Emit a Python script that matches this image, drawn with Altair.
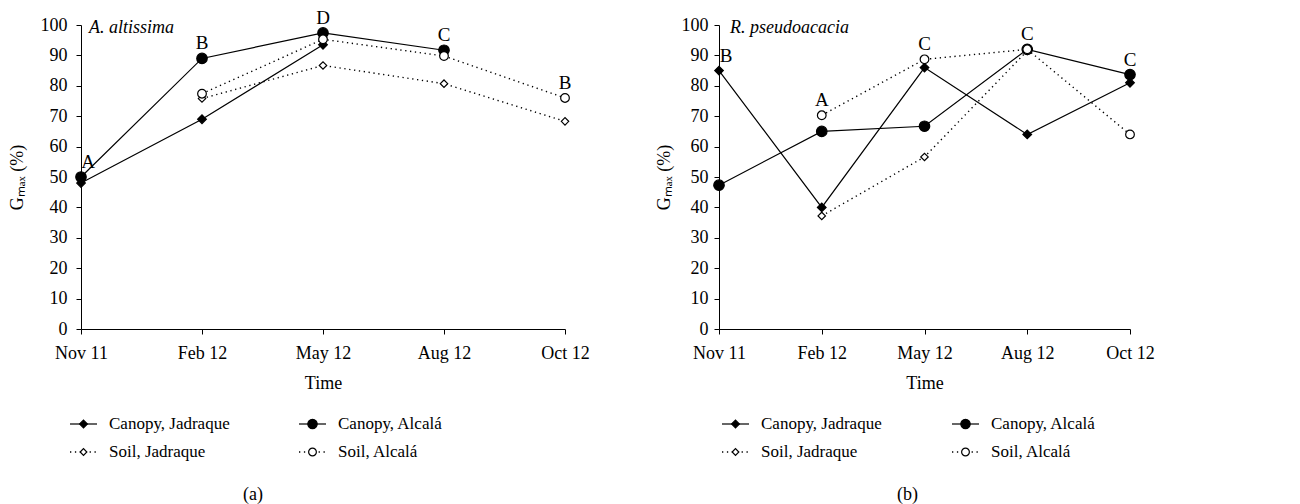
import altair as alt
import pandas as pd

# ---------------- data ----------------
dates = ["Nov 11", "Feb 12", "May 12", "Aug 12", "Oct 12"]
series_names = ["Canopy, Jadraque", "Canopy, Alcalá", "Soil, Jadraque", "Soil, Alcalá"]

# (a) A. altissima   (None = no point at that date)
a_canopy_jadraque = [48, 69, 93.5, None, None]
a_canopy_alcala = [50, 89, 97.4, 91.7, None]
a_soil_jadraque = [None, 75.8, 86.7, 80.7, 68.3]
a_soil_alcala = [None, 77.4, 95.3, 89.8, 76]
a_letters = ["A", "B", "D", "C", "B"]

# (b) R. pseudoacacia
b_canopy_jadraque = [85, 40, 86, 64, 81]
b_canopy_alcala = [47.3, 65, 66.7, 92, 83.7]
b_soil_jadraque = [None, 37.2, 56.6, 91.5, None]
b_soil_alcala = [None, 70.3, 88.7, 92, 64]
b_letters = ["B", "A", "C", "C", "C"]

FONT = "Liberation Serif"

SHAPE = {"Jadraque": "diamond", "Alcalá": "circle"}
FILL = {"Canopy": "black", "Soil": "white"}
SIZE = {("Canopy", "Jadraque"): 75, ("Canopy", "Alcalá"): 110,
        ("Soil", "Jadraque"): 55, ("Soil", "Alcalá"): 75}


def long_df(values_list):
    rows = []
    for name, vals in zip(series_names, values_list):
        kind, site = [s.strip() for s in name.split(",")]
        for d, v in zip(dates, vals):
            if v is None:
                continue
            rows.append({"series": name, "kind": kind, "site": site, "date": d,
                         "value": v, "shape": SHAPE[site], "fill": FILL[kind],
                         "size": SIZE[(kind, site)]})
    return pd.DataFrame(rows)


def letters_df(df, letters):
    tops = df.groupby("date")["value"].max()
    return pd.DataFrame({"date": dates, "letter": letters,
                         "value": [tops[d] for d in dates]})


def main_chart(values_list, letters, species, W, title_pad, label_pad, sp_dx):
    df = long_df(values_list)
    ldf = letters_df(df, letters)
    xenc = alt.X("date:O", sort=dates,
                 scale=alt.Scale(type="point", padding=0, domain=dates),
                 axis=alt.Axis(title="Time", labelAngle=0, labelPadding=10,
                               titlePadding=12))
    yenc = alt.Y("value:Q", scale=alt.Scale(domain=[0, 100], nice=False),
                 axis=alt.Axis(title="Gₘₐₓ (%)", values=list(range(0, 101, 10)),
                               labelPadding=label_pad, titlePadding=title_pad))
    base = alt.Chart(df)
    solid = base.transform_filter("datum.kind == 'Canopy'").mark_line(
        color="black", strokeWidth=1.2).encode(x=xenc, y=yenc, detail="series:N")
    dotted = base.transform_filter("datum.kind == 'Soil'").mark_line(
        color="black", strokeWidth=1.4, strokeDash=[1.3, 3.6]).encode(
        x=xenc, y=yenc, detail="series:N")
    pts = base.mark_point(stroke="black", strokeWidth=1.2, opacity=1).encode(
        x=xenc, y=yenc,
        shape=alt.Shape("shape:N", scale=None),
        fill=alt.Fill("fill:N", scale=None),
        size=alt.Size("size:Q", scale=None))
    first = alt.Chart(ldf.iloc[:1]).mark_text(
        font=FONT, fontSize=19, dy=-15, dx=7, baseline="middle", color="black"
    ).encode(x=xenc, y=yenc, text="letter:N")
    rest = alt.Chart(ldf.iloc[1:]).mark_text(
        font=FONT, fontSize=19, dy=-15, baseline="middle", color="black"
    ).encode(x=xenc, y=yenc, text="letter:N")
    sp = alt.Chart(pd.DataFrame({"date": [dates[0]], "value": [100], "t": [species]})).mark_text(
        font=FONT, fontSize=18, fontStyle="italic", align="left", baseline="middle",
        dx=sp_dx, dy=3, color="black").encode(x=xenc, y=yenc, text="t:N")
    return alt.layer(solid, dotted, pts, first, rest, sp).properties(width=W, height=304)


def legend_chart(W, col_x, caption, cap_dx):
    rows = []
    for i, name in enumerate(series_names):
        kind, site = [s.strip() for s in name.split(",")]
        x0 = col_x[i % 2]
        rows.append({"series": name, "kind": kind, "row": i // 2,
                     "x0": x0, "x1": x0 + 27, "xm": x0 + 13.5, "xt": x0 + 39,
                     "shape": SHAPE[site], "fill": FILL[kind],
                     "size": SIZE[(kind, site)] * 0.8})
    ldf = pd.DataFrame(rows)
    xs = alt.Scale(domain=[0, W], nice=False, zero=False)
    ys = alt.Scale(domain=[0, 1], reverse=True, nice=False)
    base = alt.Chart(ldf)
    y = alt.Y("row:Q", scale=ys, axis=None)
    solid = base.transform_filter("datum.kind == 'Canopy'").mark_rule(
        color="black", strokeWidth=1.2).encode(
        x=alt.X("x0:Q", scale=xs, axis=None), x2="x1:Q", y=y)
    dotted = base.transform_filter("datum.kind == 'Soil'").mark_rule(
        color="black", strokeWidth=1.4, strokeDash=[1.3, 3.6]).encode(
        x=alt.X("x0:Q", scale=xs, axis=None), x2="x1:Q", y=y)
    pts = base.mark_point(stroke="black", strokeWidth=1.2, opacity=1).encode(
        x=alt.X("xm:Q", scale=xs, axis=None), y=y,
        shape=alt.Shape("shape:N", scale=None),
        fill=alt.Fill("fill:N", scale=None),
        size=alt.Size("size:Q", scale=None))
    txt = base.mark_text(font=FONT, fontSize=17, align="left", baseline="middle",
                         color="black").encode(
        x=alt.X("xt:Q", scale=xs, axis=None), y=y, text="series:N")
    return alt.layer(solid, dotted, pts, txt).properties(
        width=W, height=28,
        title=alt.TitleParams(caption, orient="bottom", anchor="middle", dx=cap_dx,
                              offset=26, font=FONT, fontSize=18, fontWeight="normal",
                              color="black"))


WA, WB = 484, 411
main_a = main_chart([a_canopy_jadraque, a_canopy_alcala, a_soil_jadraque, a_soil_alcala],
                    a_letters, "A. altissima", WA, 14, 9, 8)
main_b = main_chart([b_canopy_jadraque, b_canopy_alcala, b_soil_jadraque, b_soil_alcala],
                    b_letters, "R. pseudoacacia", WB, 8, 6, 11)
leg_a = legend_chart(WA, [-11, 218], "(a)", -70)
leg_b = legend_chart(WB, [3, 233], "(b)", -17)

chart = alt.concat(main_a, main_b, leg_a, leg_b, columns=2,
                   spacing={"row": 95, "column": 154}, bounds="flush").properties(
    padding={"left": 0, "top": 0, "right": 5, "bottom": 2}
).configure_view(stroke=None).configure_axis(
    labelFont=FONT, titleFont=FONT, labelFontSize=18, titleFontSize=18,
    labelColor="black", titleColor="black", titleFontWeight="normal",
    domainColor="black", tickColor="black", tickSize=5, grid=False,
    domainWidth=1, tickWidth=1
)

chart.save("out.html", embed_options={"renderer": "svg", "actions": False})
